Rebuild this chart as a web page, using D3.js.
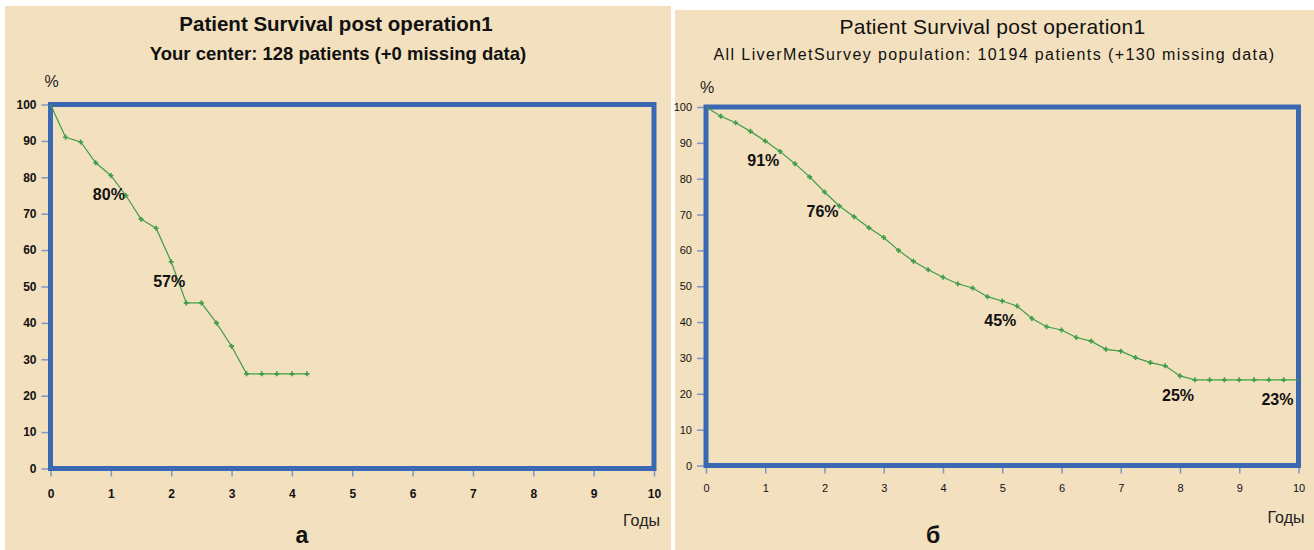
<!DOCTYPE html>
<html>
<head>
<meta charset="utf-8">
<script src="https://cdn.jsdelivr.net/npm/d3@7"></script>
<style>
  body { margin: 0; background: #fff; }
  svg { display: block; font-family: "Liberation Sans", Arial, sans-serif; }
</style>
</head>
<body>
<div id="container"></div>
<script>
// survival data (years, % alive)
const yearsA = [0, 0.25, 0.5, 0.75, 1, 1.25, 1.5, 1.75, 2, 2.25, 2.5, 2.75, 3, 3.25, 3.5, 3.75, 4, 4.25]
const survivalA = [100, 91, 89.7, 84, 80.5, 75, 68.5, 66, 56.8, 45.5, 45.5, 40, 33.6, 26, 26, 26, 26, 26]

const yearsB = [0, 0.25, 0.5, 0.75, 1, 1.25, 1.5, 1.75, 2, 2.25, 2.5, 2.75, 3, 3.25, 3.5, 3.75, 4, 4.25, 4.5, 4.75,
  5, 5.25, 5.5, 5.75, 6, 6.25, 6.5, 6.75, 7, 7.25, 7.5, 7.75, 8, 8.25, 8.5, 8.75, 9, 9.25, 9.5, 9.75, 10]
const survivalB = [100, 97.4, 95.6, 93.2, 90.5, 87.6, 84.2, 80.5, 76.3, 72.4, 69.4, 66.3, 63.6, 60, 57, 54.6, 52.5, 50.7, 49.5, 47.1,
  45.9, 44.5, 41, 38.7, 37.8, 35.7, 34.7, 32.4, 31.9, 30.1, 28.7, 27.8, 25, 23.9, 23.9, 23.9, 23.9, 23.9, 23.9, 23.9, 23.9]

const labelYearsA = [1, 2]
const labelTextA = ['80%', '57%']
const labelYearsB = [1, 2, 5, 8, 10]
const labelTextB = ['91%', '76%', '45%', '25%', '23%']

const xTicks = [0, 1, 2, 3, 4, 5, 6, 7, 8, 9, 10]
const yTicks = [0, 10, 20, 30, 40, 50, 60, 70, 80, 90, 100]

const titleText = 'Patient Survival post operation1'
const subtitleA = 'Your center: 128 patients (+0 missing data)'
const subtitleB = 'All LiverMetSurvey population: 10194 patients (+130 missing data)'

const w = 1314
const h = 550
const bg = '#f3e0be'
const frameBlue = '#3a68b3'
const green = '#3f9d48'

const svg = d3.select('#container')
  .append('svg')
  .attr('width', w)
  .attr('height', h)

const drawPanel = (p) => {
  let g = svg.append('g')

  g.append('rect')
    .attr('x', p.box[0])
    .attr('y', p.box[1])
    .attr('width', p.box[2] - p.box[0])
    .attr('height', p.box[3] - p.box[1])
    .attr('fill', bg)

  let x = d3.scaleLinear().domain([0, 10]).range([p.plot[0], p.plot[2]])
  let y = d3.scaleLinear().domain([0, 100]).range([p.plot[3], p.plot[1]])

  let cx = (p.box[0] + p.box[2]) / 2

  g.append('text')
    .attr('x', cx - 2)
    .attr('y', p.titleY)
    .attr('text-anchor', 'middle')
    .attr('font-size', p.titleSize)
    .attr('font-weight', p.titleWeight)
    .attr('letter-spacing', p.titleSpacing)
    .attr('fill', '#111')
    .text(titleText)

  g.append('text')
    .attr('x', cx)
    .attr('y', p.titleY + p.subGap)
    .attr('text-anchor', 'middle')
    .attr('font-size', p.subSize)
    .attr('font-weight', p.subWeight)
    .attr('letter-spacing', p.subSpacing)
    .attr('fill', '#111')
    .text(p.subtitle)

  g.append('text')
    .attr('x', p.plot[0] - 6)
    .attr('y', p.plot[1] - p.pctGap)
    .attr('font-size', 16)
    .attr('fill', '#222')
    .text('%')

  // axes with small outside ticks
  let yAxis = g.append('g')
    .attr('transform', 'translate(' + (p.plot[0] - 2) + ',0)')
    .call(d3.axisLeft(y).tickValues(yTicks).tickSize(7).tickPadding(5))
  let xAxis = g.append('g')
    .attr('transform', 'translate(0,' + (p.plot[3] + 2) + ')')
    .call(d3.axisBottom(x).tickValues(xTicks).tickSize(6).tickPadding(p.xPad))

  ;[yAxis, xAxis].forEach((a) => {
    a.select('.domain').remove()
    a.selectAll('.tick line').attr('stroke', '#7f95c4').attr('stroke-width', 1.5)
    a.selectAll('.tick text')
      .attr('font-family', '"Liberation Sans", Arial, sans-serif')
      .attr('font-size', p.tickSize)
      .attr('font-weight', p.tickWeight)
      .attr('fill', '#111')
  })

  g.append('rect')
    .attr('x', x(0))
    .attr('y', y(100))
    .attr('width', x(10) - x(0))
    .attr('height', y(0) - y(100))
    .attr('fill', 'none')
    .attr('stroke', frameBlue)
    .attr('stroke-width', 5)

  let pts = p.years.map((t, i) => [t, p.values[i]])

  let line = d3.line()
    .x((d) => x(d[0]))
    .y((d) => y(d[1]))

  g.append('path')
    .datum(pts)
    .attr('d', line)
    .attr('fill', 'none')
    .attr('stroke', green)
    .attr('stroke-width', 1.2)

  g.selectAll('.marker')
    .data(pts.slice(1, p.markerEnd))
    .enter()
    .append('path')
    .attr('class', 'marker')
    .attr('d', d3.symbol(d3.symbolCross, 14))
    .attr('transform', (d) => 'translate(' + x(d[0]) + ',' + y(d[1]) + ')')
    .attr('fill', green)

  p.labelYears.forEach((t, i) => {
    let v = p.values[p.years.indexOf(t)]
    let last = t === 10
    g.append('text')
      .attr('x', last ? x(t) - 5 : x(t) - 2)
      .attr('y', y(v) + 25)
      .attr('text-anchor', last ? 'end' : 'middle')
      .attr('font-size', 16)
      .attr('font-weight', 'bold')
      .attr('fill', '#111')
      .text(p.labelText[i])
  })

  g.append('text')
    .attr('x', x(10) + 6)
    .attr('y', p.plot[3] + 57)
    .attr('text-anchor', 'end')
    .attr('font-size', 16)
    .attr('fill', '#222')
    .text('Годы')

  g.append('text')
    .attr('x', p.letterX)
    .attr('y', 543)
    .attr('text-anchor', 'middle')
    .attr('font-size', 23)
    .attr('font-weight', 'bold')
    .attr('fill', '#111')
    .text(p.letter)
}

drawPanel({
  box: [5, 6, 671, 550],
  plot: [50.5, 104.5, 654, 468.5],
  titleY: 31,
  titleSize: 20.5,
  titleWeight: 'bold',
  titleSpacing: 0,
  subtitle: subtitleA,
  subGap: 29,
  subSize: 18.5,
  subWeight: 'bold',
  subSpacing: 0,
  pctGap: 18,
  tickSize: 12,
  tickWeight: 'bold',
  xPad: 13,
  years: yearsA,
  values: survivalA,
  markerEnd: yearsA.length,
  labelYears: labelYearsA,
  labelText: labelTextA,
  letter: 'а',
  letterX: 302
})

drawPanel({
  box: [675, 10, 1314, 550],
  plot: [706, 107, 1298.5, 465.5],
  titleY: 34,
  titleSize: 21,
  titleWeight: 'normal',
  titleSpacing: 0.3,
  subtitle: subtitleB,
  subGap: 26,
  subSize: 16,
  subWeight: 'normal',
  subSpacing: 1.4,
  pctGap: 14,
  tickSize: 11,
  tickWeight: 'normal',
  xPad: 11,
  years: yearsB,
  values: survivalB,
  markerEnd: yearsB.length - 1,
  labelYears: labelYearsB,
  labelText: labelTextB,
  letter: 'б',
  letterX: 933
})
</script>
</body>
</html>
